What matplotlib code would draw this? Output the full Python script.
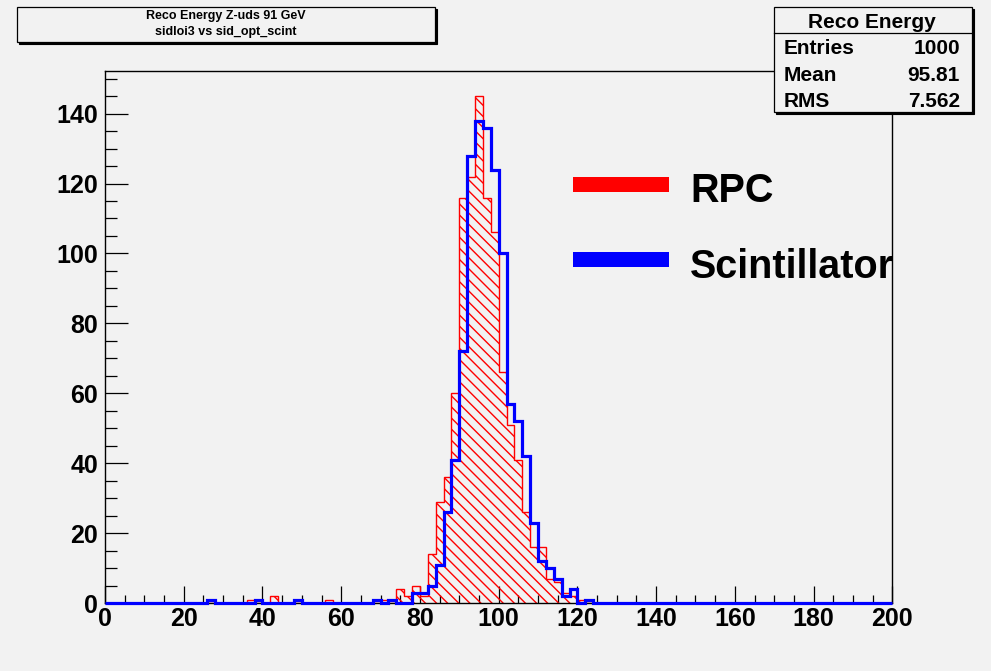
import numpy as np
import matplotlib
matplotlib.use("Agg")
import matplotlib.pyplot as plt
from matplotlib.patches import Rectangle
from matplotlib.ticker import MultipleLocator

# ---- data (bin width 2 GeV, 0..200) ----
bin_edges = np.arange(0, 202, 2)

# counts keyed by bin lower edge
rpc_nonzero = {36: 1, 42: 2, 56: 1, 70: 1, 74: 4, 76: 2, 78: 5, 80: 2, 82: 14,
               84: 29, 86: 36, 88: 60, 90: 116, 92: 122, 94: 145, 96: 116,
               98: 106, 100: 66, 102: 51, 104: 41, 106: 26, 108: 16, 110: 16,
               112: 7, 114: 6, 116: 3, 118: 2, 120: 1}
scint_nonzero = {26: 1, 38: 1, 48: 1, 68: 1, 72: 1, 78: 3, 80: 3, 82: 5,
                 84: 11, 86: 26, 88: 41, 90: 72, 92: 128, 94: 138, 96: 136,
                 98: 124, 100: 100, 102: 57, 104: 52, 106: 42, 108: 23,
                 110: 12, 112: 10, 114: 7, 116: 2, 118: 4, 120: 0, 122: 1}

rpc_counts = np.array([rpc_nonzero.get(int(e), 0) for e in bin_edges[:-1]])
scint_counts = np.array([scint_nonzero.get(int(e), 0) for e in bin_edges[:-1]])

title_lines = ["Reco Energy Z-uds 91 GeV", "sidloi3 vs sid_opt_scint"]
stats_title = "Reco Energy"
stats_rows = [("Entries", "1000"), ("Mean", "95.81"), ("RMS", "7.562")]
legend_labels = ["RPC", "Scintillator"]

# ---- style ----
W, H = 991, 671
BG = "#f2f2f2"
plt.rcParams['font.family'] = ['Liberation Sans', 'DejaVu Sans']
plt.rcParams['font.weight'] = 'bold'
plt.rcParams['hatch.linewidth'] = 1.0

fig = plt.figure(figsize=(W / 100, H / 100), dpi=100, facecolor=BG)

def fx(px):
    return px / W

def fy(py):
    return 1 - py / H

ax_l, ax_r, ax_t, ax_b = 105, 892.3, 70.7, 603.3
ax = fig.add_axes([fx(ax_l), fy(ax_b), fx(ax_r) - fx(ax_l), fy(ax_t) - fy(ax_b)])
ax.set_facecolor(BG)

ax.stairs(rpc_counts, bin_edges, fill=True, facecolor='none', edgecolor='red',
          hatch='\\\\\\', linewidth=1.0, zorder=2)
ax.stairs(scint_counts, bin_edges, color='blue', linewidth=2.3, zorder=3,
          clip_on=False)

ax.set_xlim(0, 200)
ax.set_ylim(0, 145 * 1.05)

ax.xaxis.set_major_locator(MultipleLocator(20))
ax.xaxis.set_minor_locator(MultipleLocator(5))
ax.yaxis.set_major_locator(MultipleLocator(20))
ax.yaxis.set_minor_locator(MultipleLocator(5))
ax.tick_params(axis='x', which='major', direction='in', length=12, width=0.9,
               labelsize=18, pad=3)
ax.tick_params(axis='x', which='minor', direction='in', length=6, width=0.9)
ax.tick_params(axis='y', which='major', direction='in', length=16.5, width=0.9,
               labelsize=18, pad=5)
ax.tick_params(axis='y', which='minor', direction='in', length=8.5, width=0.9)
for lab in ax.get_xticklabels() + ax.get_yticklabels():
    lab.set_fontweight('bold')
for sp in ax.spines.values():
    sp.set_linewidth(1.0)

# ---- title box ----
def box(x0, y0, x1, y1, shadow=2.0):
    fig.patches.append(Rectangle((fx(x0 + shadow), fy(y1 + shadow)),
                                 fx(x1) - fx(x0), fy(y0) - fy(y1),
                                 transform=fig.transFigure, facecolor='black',
                                 edgecolor='black', lw=0.8, zorder=5))
    fig.patches.append(Rectangle((fx(x0), fy(y1)), fx(x1) - fx(x0),
                                 fy(y0) - fy(y1), transform=fig.transFigure,
                                 facecolor=BG, edgecolor='black', lw=0.9,
                                 zorder=6))

box(16.7, 7.3, 435, 41.7)
fig.text(fx(225.8), fy(19.3), title_lines[0], ha='center', va='baseline',
         fontsize=9, fontweight='bold', zorder=7)
fig.text(fx(225.8), fy(35), title_lines[1], ha='center', va='baseline',
         fontsize=9, fontweight='bold', zorder=7)

# ---- stats box ----
box(774, 7.3, 971.7, 112)
fig.lines.append(plt.Line2D([fx(774), fx(971.7)], [fy(33.3), fy(33.3)],
                            transform=fig.transFigure, color='black', lw=0.9,
                            zorder=7))
fig.text(fx(872), fy(27.5), stats_title, ha='center', va='baseline',
         fontsize=15, fontweight='bold', zorder=7)
for i, (k, v) in enumerate(stats_rows):
    yb = 54.5 + i * 26.2
    fig.text(fx(783.3), fy(yb), k, ha='left', va='baseline', fontsize=15,
             fontweight='bold', zorder=7)
    fig.text(fx(960), fy(yb), v, ha='right', va='baseline', fontsize=15,
             fontweight='bold', zorder=7)

# ---- legend ----
leg_colors = ['red', 'blue']
leg_bar_y = [(176.7, 191.7), (252.3, 267.3)]
leg_text_base = [201.7, 278.3]
for c, (y0, y1), yb, lab in zip(leg_colors, leg_bar_y, leg_text_base, legend_labels):
    fig.patches.append(Rectangle((fx(573.3), fy(y1)), fx(669.3) - fx(573.3),
                                 fy(y0) - fy(y1), transform=fig.transFigure,
                                 facecolor=c, edgecolor='none', zorder=5))
    fig.text(fx(690), fy(yb), lab, ha='left', va='baseline', fontsize=28.5,
             fontweight='bold', zorder=5)

fig.savefig("out.png", dpi=100, facecolor=BG)
